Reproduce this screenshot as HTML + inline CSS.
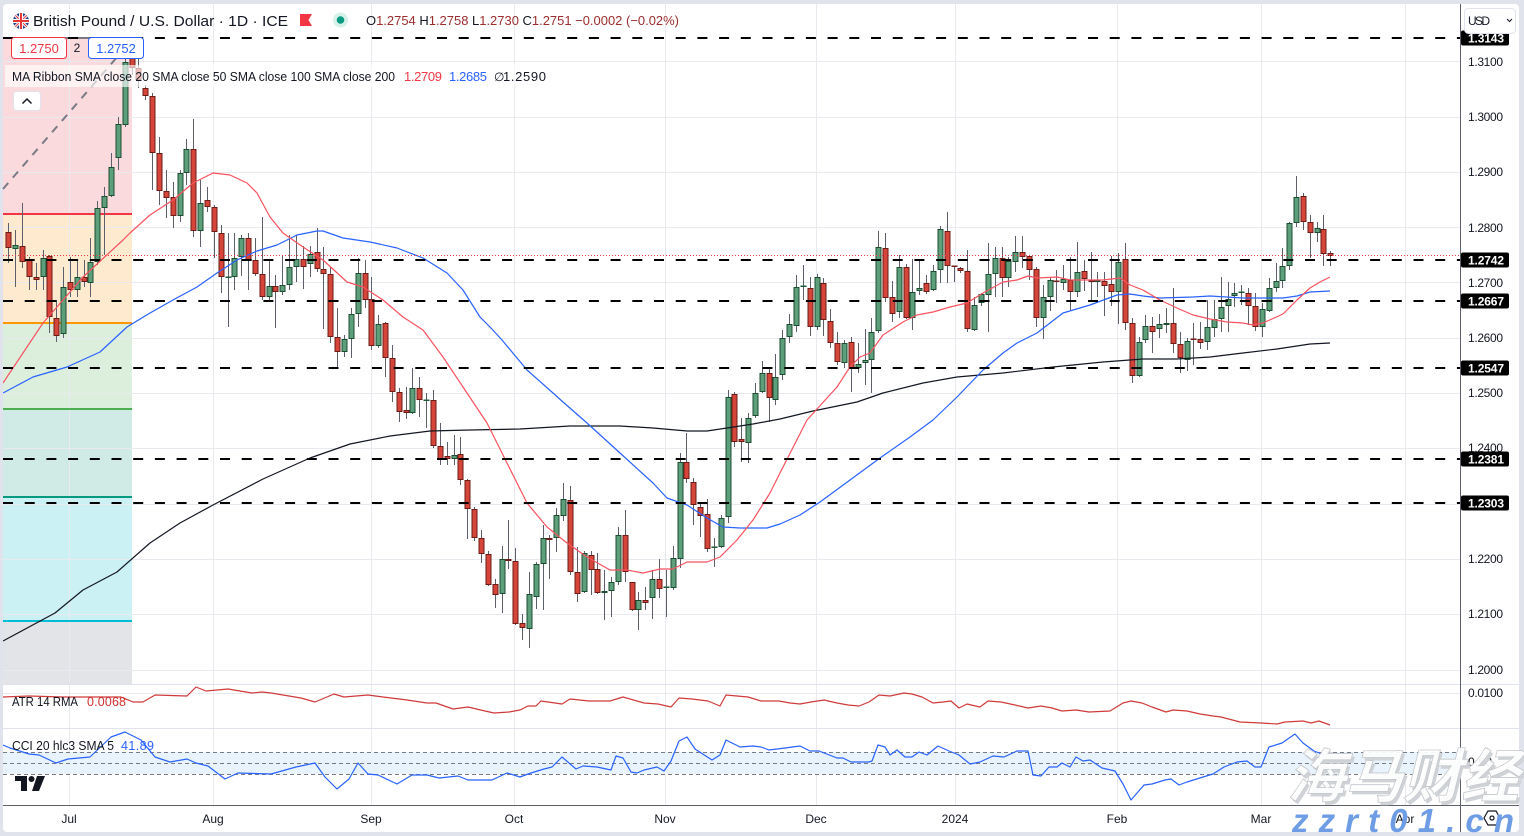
<!DOCTYPE html>
<html>
<head>
<meta charset="utf-8">
<style>
  html,body{margin:0;padding:0;background:#e0e3eb;}
  body{width:1524px;height:836px;overflow:hidden;}
  svg{display:block;font-family:"Liberation Sans",sans-serif;}
</style>
</head>
<body>
<svg id="s" width="1524" height="836" viewBox="0 0 1524 836" xmlns="http://www.w3.org/2000/svg">
  <defs>
    <clipPath id="mainclip"><rect x="3" y="4" width="1457" height="680"/></clipPath>
    <clipPath id="panelclip"><rect x="3" y="684" width="1457" height="121"/></clipPath>
    <clipPath id="flagclip"><circle cx="21" cy="21" r="8"/></clipPath>
  </defs>
  <rect x="0" y="0" width="1524" height="836" fill="#e0e3eb"/>
  <rect x="3" y="4" width="1516" height="828" rx="4" fill="#ffffff"/>

  <!-- Fib shading -->
  <g id="fib">
    <rect x="3" y="38" width="129" height="176" fill="#fbdadd"/>
    <rect x="3" y="214" width="129" height="109" fill="#feeacf"/>
    <rect x="3" y="323" width="129" height="86" fill="#dbefdc"/>
    <rect x="3" y="409" width="129" height="88" fill="#d0ebe6"/>
    <rect x="3" y="497" width="129" height="124" fill="#ccf1f4"/>
    <rect x="3" y="621" width="129" height="63" fill="#e3e4e7"/>
  </g>

  <!-- grid -->
  <g stroke="#e8eaef" stroke-width="1">
    <line x1="3" x2="1460" y1="61.5" y2="61.5"/>
    <line x1="3" x2="1460" y1="117.5" y2="117.5"/>
    <line x1="3" x2="1460" y1="172.5" y2="172.5"/>
    <line x1="3" x2="1460" y1="227.5" y2="227.5"/>
    <line x1="3" x2="1460" y1="282.5" y2="282.5"/>
    <line x1="3" x2="1460" y1="338.5" y2="338.5"/>
    <line x1="3" x2="1460" y1="393.5" y2="393.5"/>
    <line x1="3" x2="1460" y1="448.5" y2="448.5"/>
    <line x1="3" x2="1460" y1="504.5" y2="504.5"/>
    <line x1="3" x2="1460" y1="559.5" y2="559.5"/>
    <line x1="3" x2="1460" y1="614.5" y2="614.5"/>
    <line x1="3" x2="1460" y1="670.5" y2="670.5"/>
    <line x1="3" x2="1460" y1="693.5" y2="693.5"/>
    <line x1="69.5" x2="69.5" y1="4" y2="805"/>
    <line x1="213.5" x2="213.5" y1="4" y2="805"/>
    <line x1="371.5" x2="371.5" y1="4" y2="805"/>
    <line x1="514.5" x2="514.5" y1="4" y2="805"/>
    <line x1="665.5" x2="665.5" y1="4" y2="805"/>
    <line x1="816.5" x2="816.5" y1="4" y2="805"/>
    <line x1="955.5" x2="955.5" y1="4" y2="805"/>
    <line x1="1117.5" x2="1117.5" y1="4" y2="805"/>
    <line x1="1261.5" x2="1261.5" y1="4" y2="805"/>
    <line x1="1405.5" x2="1405.5" y1="4" y2="805"/>
  </g>

  <!-- fib level lines -->
  <g stroke-width="2">
    <line x1="3" x2="132" y1="38" y2="38" stroke="#787b86"/>
    <line x1="3" x2="132" y1="214" y2="214" stroke="#f23645"/>
    <line x1="3" x2="132" y1="323" y2="323" stroke="#ff9800"/>
    <line x1="3" x2="132" y1="409" y2="409" stroke="#4caf50"/>
    <line x1="3" x2="132" y1="497" y2="497" stroke="#089981"/>
    <line x1="3" x2="132" y1="621" y2="621" stroke="#00bcd4"/>
  </g>
  <!-- trend line -->
  <line x1="3" y1="189" x2="131" y2="41" stroke="#787b86" stroke-width="2" stroke-dasharray="8 7"/>

  <g id="candles" clip-path="url(#mainclip)"></g>
  <g id="mas" clip-path="url(#mainclip)" fill="none"></g>

  <!-- dashed horizontal levels -->
  <g stroke="#000" stroke-width="2" stroke-dasharray="10 11.7">
    <line x1="3" x2="1460" y1="38" y2="38"/>
    <line x1="3" x2="1460" y1="260" y2="260"/>
    <line x1="3" x2="1460" y1="301" y2="301"/>
    <line x1="3" x2="1460" y1="368" y2="368"/>
    <line x1="3" x2="1460" y1="459" y2="459"/>
    <line x1="3" x2="1460" y1="503" y2="503"/>
  </g>
  <line x1="3" x2="1460" y1="255.5" y2="255.5" stroke="#f23645" stroke-width="1" stroke-dasharray="1 2"/>

  <!-- panels -->
  <rect x="3" y="752" width="1457" height="22" fill="#e8f3fd"/>
  <g stroke="#787b86" stroke-width="1" stroke-dasharray="4 3">
    <line x1="3" x2="1460" y1="752.5" y2="752.5"/>
    <line x1="3" x2="1460" y1="763.5" y2="763.5"/>
    <line x1="3" x2="1460" y1="774.5" y2="774.5"/>
  </g>
  <g id="ind" clip-path="url(#panelclip)" fill="none"></g>

  <!-- separators -->
  <line x1="3" x2="1519" y1="684.5" y2="684.5" stroke="#e0e3eb"/>
  <line x1="3" x2="1519" y1="728.5" y2="728.5" stroke="#e0e3eb"/>
  <line x1="3" x2="1519" y1="805.5" y2="805.5" stroke="#5d606b"/>
  <line x1="1460.5" x2="1460.5" y1="4" y2="832" stroke="#5d606b"/>

  <!-- price axis labels -->
  <g font-size="12" fill="#131722">
    <text x="1468" y="66" textLength="35">1.3100</text>
    <text x="1468" y="121" textLength="35">1.3000</text>
    <text x="1468" y="176" textLength="35">1.2900</text>
    <text x="1468" y="232" textLength="35">1.2800</text>
    <text x="1468" y="287" textLength="35">1.2700</text>
    <text x="1468" y="342" textLength="35">1.2600</text>
    <text x="1468" y="397" textLength="35">1.2500</text>
    <text x="1468" y="452" textLength="35">1.2400</text>
    <text x="1468" y="563" textLength="35">1.2200</text>
    <text x="1468" y="618" textLength="35">1.2100</text>
    <text x="1468" y="674" textLength="35">1.2000</text>
    <text x="1468" y="697" textLength="35">0.0100</text>
    <text x="1468" y="766" textLength="24">0.00</text>
  </g>
  <g>
    <rect x="1461" y="30.5" width="48" height="15" rx="2" fill="#000"/>
    <rect x="1461" y="252.5" width="48" height="15" rx="2" fill="#000"/>
    <rect x="1461" y="293.5" width="48" height="15" rx="2" fill="#000"/>
    <rect x="1461" y="360.5" width="48" height="15" rx="2" fill="#000"/>
    <rect x="1461" y="451.5" width="48" height="15" rx="2" fill="#000"/>
    <rect x="1461" y="495.5" width="48" height="15" rx="2" fill="#000"/>
  </g>
  <g font-size="12" font-weight="bold" fill="#fff">
    <text x="1468" y="42.5" textLength="36">1.3143</text>
    <text x="1468" y="264.5" textLength="36">1.2742</text>
    <text x="1468" y="305.5" textLength="36">1.2667</text>
    <text x="1468" y="372.5" textLength="36">1.2547</text>
    <text x="1468" y="463.5" textLength="36">1.2381</text>
    <text x="1468" y="507.5" textLength="36">1.2303</text>
  </g>
  <!-- USD button -->
  <rect x="1464.5" y="8.5" width="51" height="25" rx="4" fill="#fff" stroke="#e0e3eb"/>
  <text x="1468" y="25" font-size="12" fill="#131722" textLength="22">USD</text>
  <path d="M1507 19 L1509.5 21.5 L1512 19" stroke="#131722" stroke-width="1" fill="none"/>

  <!-- time axis -->
  <g font-size="12" fill="#131722" text-anchor="middle">
    <text x="69" y="823">Jul</text>
    <text x="213" y="823">Aug</text>
    <text x="371" y="823">Sep</text>
    <text x="514" y="823">Oct</text>
    <text x="665" y="823">Nov</text>
    <text x="816" y="823">Dec</text>
    <text x="955" y="823">2024</text>
    <text x="1117" y="823">Feb</text>
    <text x="1261" y="823">Mar</text>
    <text x="1405" y="823">Apr</text>
  </g>
  <!-- settings hexagon icon -->
  <polygon points="1484,818 1488,811 1496,811 1500,818 1496,825 1488,825" fill="none" stroke="#131722" stroke-width="1.2"/>
  <circle cx="1492" cy="818" r="2" fill="none" stroke="#131722" stroke-width="1.2"/>

  <!-- header -->
  <g clip-path="url(#flagclip)">
    <rect x="13" y="13" width="16" height="16" fill="#23408e"/>
    <line x1="13" y1="13" x2="29" y2="29" stroke="#fff" stroke-width="3"/>
    <line x1="29" y1="13" x2="13" y2="29" stroke="#fff" stroke-width="3"/>
    <line x1="13" y1="13" x2="29" y2="29" stroke="#e53935" stroke-width="1"/>
    <line x1="29" y1="13" x2="13" y2="29" stroke="#e53935" stroke-width="1"/>
    <rect x="19" y="13" width="4" height="16" fill="#fff"/>
    <rect x="13" y="19" width="16" height="4" fill="#fff"/>
    <rect x="20" y="13" width="2" height="16" fill="#e53935"/>
    <rect x="13" y="20" width="16" height="2" fill="#e53935"/>
  </g>
  <text x="33" y="26" font-size="15" fill="#131722" textLength="255" lengthAdjust="spacingAndGlyphs">British Pound / U.S. Dollar · 1D · ICE</text>
  <path d="M300 14 H312 L308.5 20 L312 26 H300 Z" fill="#f23645"/>
  <circle cx="340.5" cy="20" r="7.5" fill="#d6f1e9"/>
  <circle cx="340.5" cy="20" r="3.8" fill="#089981"/>
  <text x="366" y="25" font-size="13" textLength="313" lengthAdjust="spacingAndGlyphs"><tspan fill="#131722">O</tspan><tspan fill="#9c2d2d">1.2754 </tspan><tspan fill="#131722">H</tspan><tspan fill="#9c2d2d">1.2758 </tspan><tspan fill="#131722">L</tspan><tspan fill="#9c2d2d">1.2730 </tspan><tspan fill="#131722">C</tspan><tspan fill="#9c2d2d">1.2751 −0.0002 (−0.02%)</tspan></text>

  <!-- legend overlay -->
  <rect x="5" y="65" width="548" height="22" fill="#ffffff" fill-opacity="0.65"/>
  <rect x="11.5" y="37.5" width="55" height="21" rx="3" fill="#fff" stroke="#f23645"/>
  <text x="39" y="53" font-size="13" fill="#f23645" text-anchor="middle">1.2750</text>
  <text x="77" y="52" font-size="12" fill="#131722" text-anchor="middle">2</text>
  <rect x="88.5" y="37.5" width="55" height="21" rx="3" fill="#fff" stroke="#2962ff"/>
  <text x="116" y="53" font-size="13" fill="#2962ff" text-anchor="middle">1.2752</text>
  <text x="12" y="81" font-size="13" fill="#131722" textLength="383" lengthAdjust="spacingAndGlyphs">MA Ribbon SMA close 20 SMA close 50 SMA close 100 SMA close 200</text>
  <text x="404" y="81" font-size="13" fill="#f23645" textLength="38">1.2709</text>
  <text x="449" y="81" font-size="13" fill="#2962ff" textLength="38">1.2685</text>
  <text x="494" y="81" font-size="12" fill="#131722">∅</text>
  <text x="503" y="81" font-size="13" fill="#131722" textLength="43">1.2590</text>
  <rect x="13.5" y="91.5" width="27" height="19" rx="3" fill="#fff" stroke="#e0e3eb"/>
  <path d="M22.5 103.5 L27 99 L31.5 103.5" stroke="#131722" stroke-width="1.5" fill="none"/>

  <!-- indicator legends -->
  <text x="12" y="706" font-size="12.5" fill="#131722" textLength="66" lengthAdjust="spacingAndGlyphs">ATR 14 RMA</text>
  <text x="87" y="706" font-size="12.5" fill="#d03030" textLength="39">0.0068</text>
  <text x="12" y="750" font-size="12.5" fill="#131722" textLength="102" lengthAdjust="spacingAndGlyphs">CCI 20 hlc3 SMA 5</text>
  <text x="121" y="750" font-size="12.5" fill="#2962ff" textLength="33">41.89</text>

  <!-- TV logo -->
  <g fill="#131722">
    <rect x="15" y="776" width="12" height="5"/>
    <rect x="21" y="776" width="6" height="15"/>
    <circle cx="31.5" cy="779" r="3"/>
    <polygon points="37,776 45,776 39,791 32,791"/>
  </g>

  <!-- watermark -->
  <g transform="translate(1287,797) skewX(-14)">
    <text x="3" y="3" font-family="'Liberation Sans','Noto Sans CJK SC',sans-serif" font-size="58" font-weight="bold" fill="#cfd2d6" textLength="232" lengthAdjust="spacingAndGlyphs">海马财经</text>
    <text x="0" y="0" font-family="'Liberation Sans','Noto Sans CJK SC',sans-serif" font-size="58" font-weight="bold" fill="#ffffff" fill-opacity="0.92" stroke="#c5c8cc" stroke-width="0.8" textLength="232" lengthAdjust="spacingAndGlyphs">海马财经</text>
  </g>
  <text x="1292" y="832" font-size="33" font-weight="bold" font-style="italic" fill="#6e9de6" textLength="222" lengthAdjust="spacing">zzrt01.cn</text>
</svg>
<script>
(function(){
  var NS='http://www.w3.org/2000/svg';
  function el(tag,attrs,parent){var e=document.createElementNS(NS,tag);for(var k in attrs)e.setAttribute(k,attrs[k]);parent.appendChild(e);return e;}
  var B=[
  [0,232,248,223,263],[1,245,249,230,287],[0,246,262,203,268],[0,260,277,257,290],[0,277,280,263,290],
  [1,258,277,250,290],[0,256,317,255,333],[0,318,336,300,342],[1,287,334,267,338],[0,282,290,257,297],
  [1,277,290,260,297],[0,277,282,260,287],[1,262,283,238,297],[1,208,262,201,265],[1,196,208,187,255],
  [1,167,196,153,197],[1,124,158,117,170],[1,62,125,55,127],[0,58,68,38,75],[0,68,80,45,88],
  [0,88,96,85,100],[0,96,153,93,190],[0,153,191,137,205],[0,191,198,170,218],[0,197,216,182,228],
  [1,173,216,170,222],[1,149,173,139,185],[0,149,231,119,237],[1,203,231,180,247],[0,200,207,187,212],
  [0,207,232,205,258],[0,233,277,225,293],[1,277,278,233,327],[1,258,277,233,290],[1,238,257,235,276],
  [0,238,260,233,290],[0,260,274,238,276],[0,274,297,217,300],[1,286,297,260,300],[0,286,292,275,328],
  [1,285,292,255,295],[1,267,285,235,290],[1,259,267,235,282],[0,259,267,246,289],[1,254,264,246,277],
  [0,252,269,228,272],[0,269,274,247,329],[0,274,337,267,343],[0,337,352,308,367],[1,339,352,335,357],
  [1,314,339,308,358],[1,273,314,258,327],[0,273,300,260,308],[0,299,346,277,350],[1,324,346,315,348],
  [0,323,358,322,377],[0,358,392,345,402],[0,392,412,388,422],[0,410,413,387,419],[1,388,413,368,414],
  [0,388,400,377,417],[1,400,401,393,428],[0,400,446,390,448],[0,446,459,423,465],[0,456,459,442,465],
  [1,455,459,435,465],[0,454,480,437,485],[0,480,509,479,539],[0,509,538,507,541],[0,538,554,530,563],
  [0,554,585,551,586],[0,584,595,579,608],[1,559,594,546,613],[0,559,561,520,569],[0,561,624,548,625],
  [0,623,628,614,640],[1,594,629,572,648],[1,564,597,562,609],[1,538,564,525,610],[0,538,540,535,579],
  [1,515,538,508,552],[1,499,516,483,521],[0,500,572,486,575],[0,572,594,547,602],[1,553,592,551,593],
  [0,555,570,551,595],[0,569,593,553,594],[1,591,593,570,620],[1,582,591,577,617],[1,535,582,527,585],
  [0,535,572,510,582],[0,582,610,582,611],[1,600,610,592,630],[0,600,603,587,610],[1,579,598,570,619],
  [0,579,589,559,598],[1,587,588,570,617],[1,558,588,546,590],[1,462,559,453,568],[0,462,479,433,483],
  [0,482,505,478,525],[0,507,516,503,537],[0,514,549,499,552],[1,547,548,538,567],[1,518,547,515,548],
  [1,397,517,390,523],[0,394,442,392,447],[0,439,442,418,462],[1,418,443,413,463],[1,393,416,383,418],
  [1,373,392,361,393],[0,373,398,367,422],[1,377,400,354,405],[1,338,375,330,380],[1,324,337,314,343],
  [1,287,326,275,332],[1,286,287,265,300],[0,288,327,277,336],[1,277,327,274,330],[0,283,320,278,336],
  [0,321,343,309,348],[0,343,362,332,365],[1,343,363,340,368],[0,342,369,337,392],[1,364,368,343,373],
  [1,360,363,329,385],[1,332,360,318,393],[1,247,331,231,333],[0,248,298,233,302],[0,297,314,281,322],
  [1,267,312,255,318],[0,267,318,264,319],[1,292,318,259,330],[1,288,291,259,295],[0,283,292,275,294],
  [1,271,290,265,291],[1,229,270,226,283],[0,231,266,212,283],[0,266,267,266,282],[0,268,271,267,273],
  [0,271,329,250,332],[1,305,330,297,331],[1,294,303,293,306],[1,274,295,243,332],[1,258,274,247,297],
  [0,258,278,247,297],[1,261,278,257,287],[1,252,262,236,272],[0,252,257,236,268],[0,256,270,255,280],
  [0,269,318,267,327],[1,297,318,285,339],[1,280,297,277,311],[0,281,282,270,303],[1,279,283,265,290],
  [0,280,292,257,310],[1,272,292,242,297],[0,271,279,260,291],[0,280,282,252,300],[1,280,282,272,297],
  [0,281,286,272,316],[0,284,292,256,306],[1,262,292,253,324],[0,259,323,243,330],[0,323,376,318,383],
  [1,342,376,337,377],[1,326,340,315,343],[0,326,332,317,353],[1,324,329,314,338],[1,323,325,308,333],
  [0,323,344,288,353],[0,344,358,332,373],[1,341,360,338,371],[0,339,340,323,365],[0,339,343,322,349],
  [1,327,342,300,350],[1,319,328,300,337],[1,307,319,277,332],[1,299,306,282,332],[1,293,296,283,307],
  [1,292,293,285,305],[0,293,306,288,325],[0,306,327,293,331],[1,309,327,303,337],[1,288,311,278,312],
  [1,281,288,263,292],[1,266,281,248,288],[1,223,266,222,270],[1,197,223,176,227],[0,196,222,193,230],
  [0,222,233,215,258],[1,228,233,222,242],[0,229,254,215,266],[0,253,256,251,266]
  ];
  var cg=document.getElementById('candles');
  for(var i=0;i<B.length;i++){
    var b=B[i], cx=Math.round(8.3+6.85*i);
    var up=b[0]===1;
    el('rect',{x:cx,y:b[3],width:1,height:Math.max(1,b[4]-b[3]),fill:'#5d606b'},cg);
    var h=b[2]-b[1];
    if(h<1.5){
      el('rect',{x:cx-2.5,y:b[1]-0.5,width:6,height:1.5,fill:up?'#1e5a3a':'#7a2018'},cg);
    } else {
      el('rect',{x:cx-2,y:b[1]+0.5,width:5,height:h-1,fill:up?'#5e9f7b':'#d5453a',stroke:up?'#1c4d31':'#6b1c16','stroke-width':1},cg);
    }
  }
  function pl(pts,color,w,parent){
    var s=[];for(var j=0;j<pts.length;j+=2)s.push(pts[j]+','+pts[j+1]);
    el('polyline',{points:s.join(' '),stroke:color,'stroke-width':w,fill:'none','stroke-linejoin':'round'},parent);
  }
  var mg=document.getElementById('mas');
  var s20=[3,383,43,323,83,277,123,240,130,233,150,215,173,200,193,183,213,173,230,175,247,183,257,193,270,217,283,233,303,247,323,260,347,282,363,287,383,300,403,317,423,330,443,357,463,387,487,423,507,463,527,503,547,527,567,543,587,557,610,570,627,570,643,573,660,569,673,569,687,562,707,562,720,557,737,540,753,520,770,493,780,473,807,420,837,387,850,367,860,357,870,353,883,335,903,322,917,315,933,312,950,307,967,303,983,293,1003,282,1017,280,1028,276,1037,278,1057,277,1070,280,1103,280,1120,278,1130,285,1143,290,1160,300,1177,308,1193,315,1210,319,1227,322,1243,323,1253,325,1263,323,1283,314,1297,300,1310,288,1320,282,1330,277];
  var s50=[3,393,33,377,67,367,100,352,127,327,150,313,173,300,197,287,217,273,237,260,257,251,277,245,297,235,317,231,323,231,343,238,370,242,397,248,423,258,447,273,463,290,480,317,490,327,502,340,527,370,553,393,563,402,587,423,620,453,653,483,667,498,687,505,707,518,723,527,740,528,767,528,780,524,800,515,820,502,850,480,880,458,910,437,933,420,957,397,983,370,1003,353,1017,343,1037,333,1063,313,1090,305,1117,295,1130,294,1143,296,1160,298,1193,297,1210,296,1243,298,1283,298,1297,296,1310,292,1330,291];
  var s200=[3,641,55,613,83,590,117,572,150,543,180,523,213,505,263,479,310,458,350,444,390,436,430,431,470,430,520,429,570,426,620,426,653,428,687,431,707,431,727,428,753,424,780,419,813,411,857,402,883,393,923,383,957,377,1003,373,1053,367,1103,362,1143,359,1177,359,1210,357,1243,353,1277,349,1310,344,1330,343];
  pl(s200,'#131722',1.2,mg);
  pl(s50,'#2962ff',1.2,mg);
  pl(s20,'#f7525f',1.2,mg);
  var ig=document.getElementById('ind');
  var atr=[3,697,29,696,63,697,121,697,133,702,143,702,155,695,187,696,196,687,206,691,228,689,252,693,262,692,271,693,301,698,315,702,334,694,344,697,368,695,383,697,407,700,427,703,436,703,453,709,468,707,485,711,494,713,509,712,520,710,528,706,536,706,541,701,562,704,570,699,589,701,610,701,623,697,644,703,658,704,671,707,679,698,692,699,708,701,720,706,726,695,737,696,748,697,761,701,779,701,790,703,800,704,811,702,824,700,837,703,848,705,859,706,869,702,879,695,890,696,904,693,912,694,922,697,933,703,943,702,951,701,959,708,967,704,980,707,988,701,1001,702,1015,705,1028,708,1041,706,1052,708,1062,711,1076,710,1089,712,1110,711,1123,703,1131,701,1142,703,1152,707,1166,712,1173,710,1187,711,1200,714,1213,716,1221,717,1240,722,1261,723,1277,724,1285,722,1303,721,1311,723,1319,721,1330,725];
  var cci=[3,745,10,748,29,754,39,755,56,763,68,759,90,757,111,737,125,732,141,740,155,757,170,762,187,759,196,763,208,766,225,779,238,773,271,774,296,767,315,763,325,777,337,789,349,779,358,763,368,774,378,775,397,784,412,775,427,775,439,778,458,776,468,780,492,780,507,773,520,777,531,773,544,769,552,767,562,757,576,769,583,766,597,767,611,770,616,756,623,758,631,772,637,773,644,770,657,767,664,771,671,761,679,741,687,737,695,749,712,760,720,755,726,740,740,747,753,746,761,747,769,750,785,748,800,746,810,751,819,751,837,758,843,758,851,762,869,762,872,761,878,745,885,747,890,755,897,750,905,757,912,757,919,752,927,755,938,746,949,751,959,755,970,764,980,762,993,756,1004,757,1017,751,1028,751,1033,775,1041,776,1049,767,1057,767,1062,763,1070,767,1076,757,1083,761,1090,760,1102,768,1115,771,1123,784,1131,800,1144,785,1152,784,1165,780,1171,779,1179,785,1187,782,1203,777,1213,774,1224,767,1237,762,1247,761,1255,767,1261,767,1269,747,1282,743,1295,734,1303,743,1314,751,1327,756];
  pl(atr,'#d03a3a',1.2,ig);
  pl(cci,'#2962ff',1.2,ig);
})();
</script>
</body>
</html>
